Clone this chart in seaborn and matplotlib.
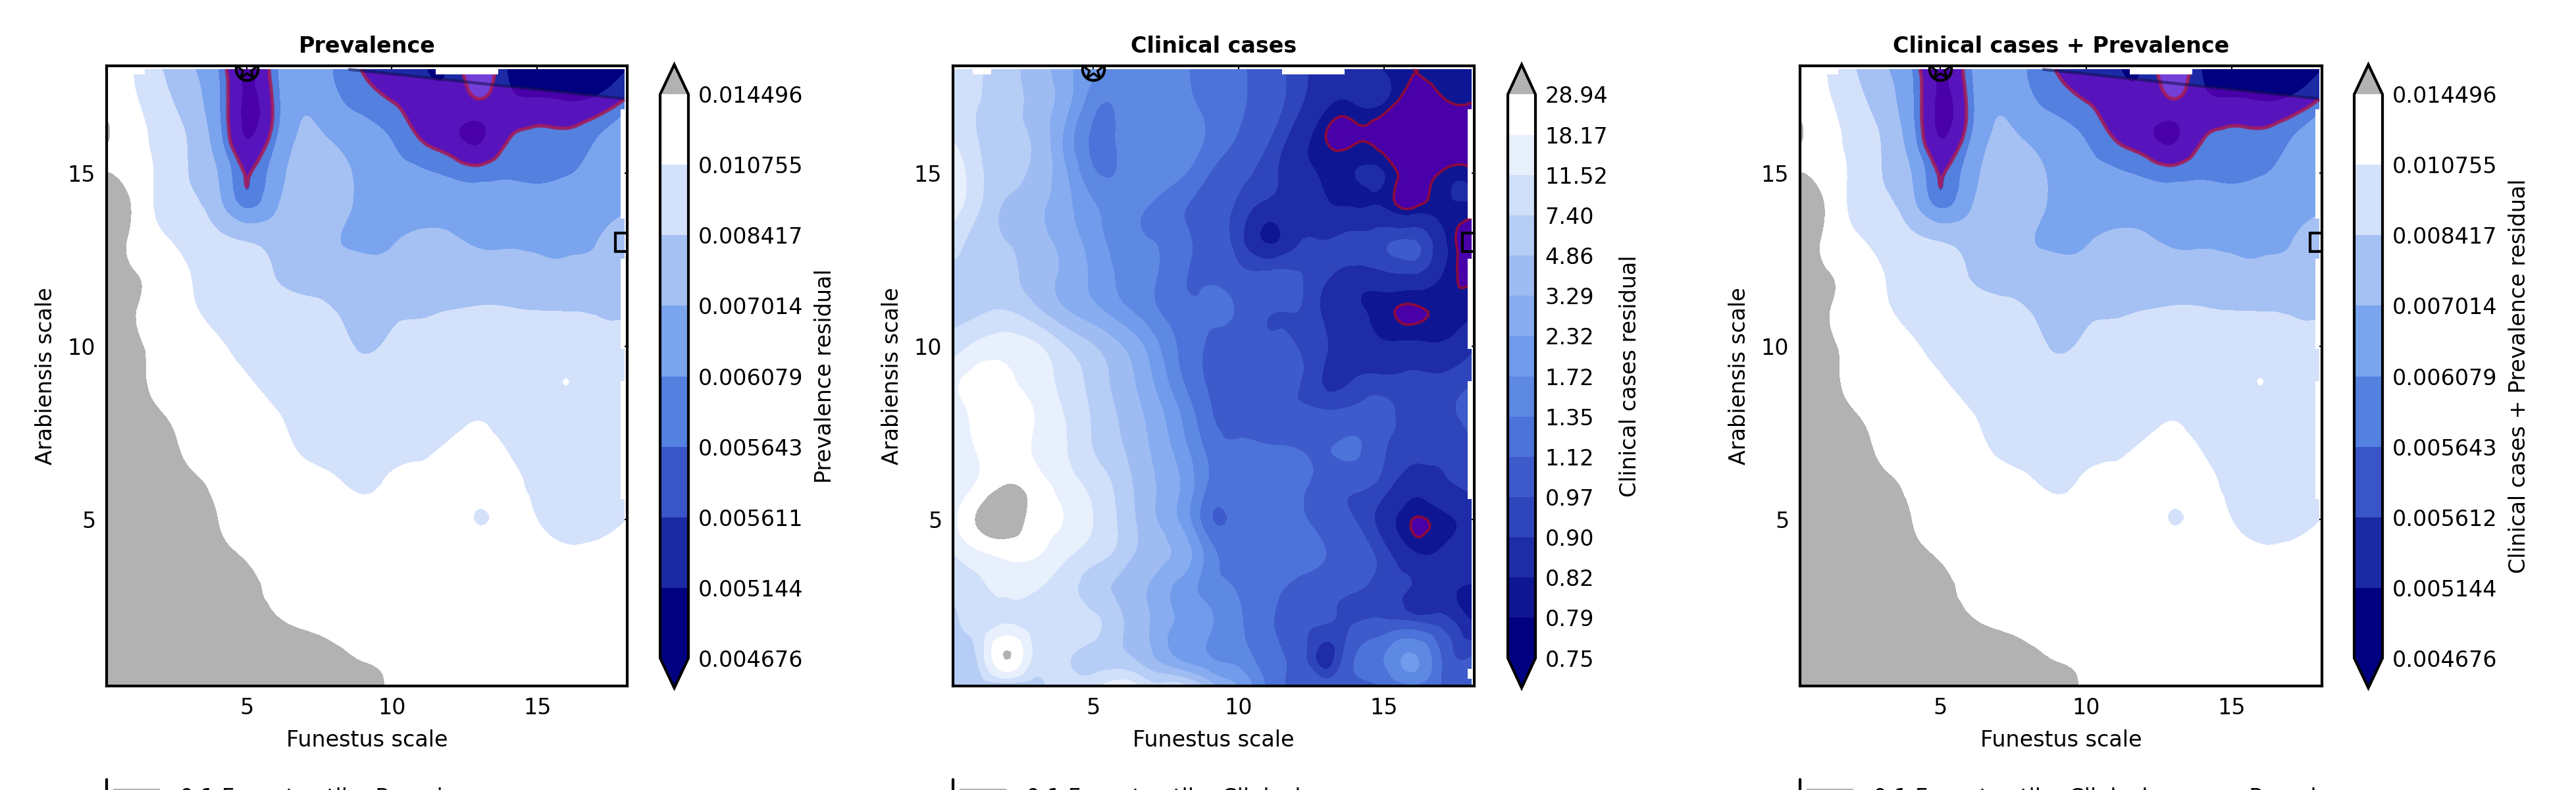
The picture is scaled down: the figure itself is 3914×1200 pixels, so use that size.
import numpy as np
import matplotlib
matplotlib.use("Agg")
import matplotlib.pyplot as plt
import matplotlib.tri as mtri
from matplotlib.colors import ListedColormap, BoundaryNorm
from matplotlib.lines import Line2D
from matplotlib.patches import Rectangle, Polygon
import seaborn as sns

funestus = [0.2] + list(range(1, 19))
arabiensis = [0.2] + list(range(1, 19))

# residuals, rows run from the lowest arabiensis scale upward
prev_y00 = [46,41,36,31,28,25,22,19.5,17,15.5,14.2,13.8,13.5,13.3,13,12.8,12.5,12.2,12]
prev_y01 = [45,40,35,30,27,24,21,18.5,16,14.3,14,13.5,13.2,13,12.8,12.5,12.3,12,11.8]
prev_y02 = [38,33,28,24,20,17.5,15.2,13.8,13,12.8,12.7,12.6,12.5,12.4,12.3,12.2,12,11.7,11.4]
prev_y03 = [33,28,24,20,17.5,15.3,14.1,13.4,13,12.7,12.5,12.3,12.2,12.1,12,11.9,11.7,11.5,11.2]
prev_y04 = [29,25,21,18,15.5,14.2,13.3,12.8,12.5,12.3,12.2,12,11.9,11.8,11.7,11.5,11,11.1,11.2]
prev_y05 = [25,22,18,16,14.5,13.5,12.9,12.4,12.2,11.9,11.8,11.7,11.6,10.68,11.2,10.76,10.2,10.2,10.7]
prev_y06 = [21,18.5,16,15,14,13,12.4,11.8,11.3,10.3,11.2,11.2,11.3,11.4,11.1,10.4,9.8,9.8,9.9]
prev_y07 = [19,17,15.5,14.1,13.2,12.4,11.6,10.5,9.9,9.5,10,10.5,11,11.3,10.7,9.9,9.5,9.4,9.5]
prev_y08 = [18,16,14.7,13.5,12.5,11.6,10.9,10.2,9.8,9.2,9.3,9.5,10,10.6,10,9.4,9.1,9,9]
prev_y09 = [17,15.2,14,12.8,11.6,10.9,10.2,9.8,9.4,9,9.2,9.1,9.1,9.3,9.2,9.1,10.8,9,9]
prev_y10 = [16.5,15,13.8,12.3,11,10.3,9.8,9.3,8.9,8.3,8.6,8.7,8.8,8.9,8.9,8.85,8.9,8.7,8.7]
prev_y11 = [16,14.8,13,11.2,10.2,9.7,9.2,8.8,8.45,8.1,8.25,8.3,8.45,8.6,8.55,8.45,8.42,8.35,8.3]
prev_y12 = [17,15,13.3,10.9,9.8,9.2,8.4,8,7.8,7.5,7.6,7.7,7.6,7.5,7.5,7.45,7.4,7.4,7.5]
prev_y13 = [19,13.9,11.5,9.9,9,8.45,8,7.6,7.1,6.85,6.95,7.35,7.2,6.95,6.95,6.9,6.9,7,7.4]
prev_y14 = [22,14.6,10.2,8.9,7.5,6.05,6.9,7.7,7.6,6.7,6.6,6.5,6.5,6.5,6.5,6.5,6.5,6.6,6.85]
prev_y15 = [14.6,12.6,10.2,8.4,7,5.6,6.5,7.5,7.5,6.7,6.3,6.15,6,5.85,6,5.95,6.05,6.2,6.4]
prev_y16 = [14.7,12.2,10,8.3,6.4,5.14,6,7.2,6.9,6.45,6.05,5.6,5.3,5.08,5.6,5.75,5.75,6.05,6.7]
prev_y17 = [13.8,11.5,9.3,7.7,6.2,5.05,5.8,6.9,6.3,5.9,5.65,5.4,5.25,5.5,5.3,5.25,5.2,5.3,5.75]
prev_y18 = [13.5,11,8.6,7.2,6.1,4.95,5.95,6.5,6.05,5.6,5.3,5.2,5.2,6.1,5.1,4.7,4.6,4.8,5.1]

clin_y00 = [5.4,6,5.5,6.5,8.5,10,16,8.5,9,4,2.3,1.3,1.1,1.05,1.05,1.13,1.3,1.1,1]
clin_y01 = [6,7.5,29.5,10,7.7,6.5,5.5,3.5,2.2,1.75,1.55,1.2,1.05,.87,1.12,1.35,1.8,1.1,.98]
clin_y02 = [6.8,8.5,11.5,9.5,8.5,8,5,3.2,2.2,1.8,1.4,1.16,1,.97,.97,1,1,.94,.83]
clin_y03 = [8,10,13,11.8,9,6,4.2,3.1,2.1,1.5,1.33,1.18,1.08,1.03,.98,.93,.89,.85,.81]
clin_y04 = [11.5,16,20,19,13,9,6,4,2.9,1.5,1.28,1.22,1.17,1.12,1.03,.93,.83,.83,.85]
clin_y05 = [16,30,40,24,18,11.5,6.5,3.6,2.2,1.15,1.2,1.18,1.15,1.05,.97,.86,.789,.805,.85]
clin_y06 = [13,19,29,23,15,10,6,3.5,2.3,1.3,1.2,1.17,1.15,1.05,1,.93,.85,.88,.92]
clin_y07 = [14,18.5,24,17,12,7.4,5,3.2,2,1.27,1.16,1.14,1.125,1.11,1.14,.98,.92,.91,.95]
clin_y08 = [14,21,25,18,11.5,7,4.5,2.9,1.72,1.15,1.05,1,1,1,1.02,1,.93,.94,1]
clin_y09 = [17,21,20,15,10,6.3,4,2.4,1.4,1.1,1.05,1,.98,.89,.905,.92,.92,.92,.96]
clin_y10 = [9,13,15,12.5,7.6,5,3.3,2,1.3,1.1,1.05,1,.97,.905,.85,.83,.835,.83,.88]
clin_y11 = [7,7,7.6,5.5,3.5,2.6,1.9,1.45,1.2,1.14,1.1,.98,.97,.88,.83,.80,.785,.795,.81]
clin_y12 = [6.5,7,5.5,4.2,3,2.2,1.6,1.4,1.15,1.1,1.02,1,.98,.91,.86,.87,.88,.815,.785]
clin_y13 = [9,6.3,4.9,3.9,2.9,2,1.5,1.36,1.2,1.03,.93,.815,.89,.905,.93,.96,.98,.84,.76]
clin_y14 = [14,8,4.5,3.6,2.6,1.8,1.45,1.33,1.15,1.03,.95,.87,.88,.83,.82,.82,.79,.805,.81]
clin_y15 = [18,8.5,5.8,4.3,2.5,1.4,1.4,1.5,1.4,1.12,1,.93,.85,.815,.82,.82,.77,.795,.80]
clin_y16 = [11,7.5,5.5,4.5,2.2,1.3,1.42,1.6,1.55,1.3,1.1,.98,.86,.79,.785,.765,.72,.73,.74]
clin_y17 = [9,7.5,6,4.2,2.7,1.45,1.45,1.6,1.45,1.28,1.15,1.03,.92,.83,.82,.815,.755,.775,.787]
clin_y18 = [9,8,5.5,4.2,2.6,1.9,1.5,1.5,1.4,1.25,1.15,1.03,.93,.86,.84,.815,.79,.805,.805]

prev_rows = [prev_y00, prev_y01, prev_y02, prev_y03, prev_y04, prev_y05, prev_y06, prev_y07, prev_y08, prev_y09,
             prev_y10, prev_y11, prev_y12, prev_y13, prev_y14, prev_y15, prev_y16, prev_y17, prev_y18]
clin_rows = [clin_y00, clin_y01, clin_y02, clin_y03, clin_y04, clin_y05, clin_y06, clin_y07, clin_y08, clin_y09,
             clin_y10, clin_y11, clin_y12, clin_y13, clin_y14, clin_y15, clin_y16, clin_y17, clin_y18]

prev_levels = [4.676, 5.144, 5.611, 5.643, 6.079, 7.014, 8.417, 10.755, 14.496]   # x 1e-3
clin_levels = [.75, .79, .82, .90, .97, 1.12, 1.35, 1.72, 2.32, 3.29, 4.86, 7.40, 11.52, 18.17, 28.94]

prev_labels = ["0.004676", "0.005144", "0.005611", "0.005643", "0.006079", "0.007014", "0.008417", "0.010755", "0.014496"]
both_labels = ["0.004676", "0.005144", "0.005612", "0.005643", "0.006079", "0.007014", "0.008417", "0.010755", "0.014496"]
clin_labels = ["0.75", "0.79", "0.82", "0.90", "0.97", "1.12", "1.35", "1.72", "2.32", "3.29", "4.86", "7.40", "11.52", "18.17", "28.94"]

titles = ["Prevalence", "Clinical cases", "Clinical cases + Prevalence"]
bar_labels = ["Prevalence residual", "Clinical cases residual", "Clinical cases + Prevalence residual"]
legend_texts = ["0.1 Funestus tile: Prevalence", "0.1 Funestus tile: Clinical", "0.1 Funestus tile: Clinical cases + Prevalence"]

# where each panel's contour surface was not drawn in the reference
gap_x = [(17.87, 18.0)] * 5 + [(11.5, 13.65), (0.85, 1.5)]
gap_y = [(13.69, 16.84), (9.93, 12.53), (7.88, 9.0), (5.6, 7.88), (0.41, 0.7), (17.85, 18.0), (17.85, 18.0)]

# straight closing edge of the prevalence overlay and the pocket above it
edge_x = [8.5, 18.0]
edge_y = [18.0, 17.15]
pocket_x = [12.2, 13.7]
best_fit = (5, 18)
true_scale = (18, 13)

prev_threshold = 5.62
clin_threshold = 0.79

W, H = 3914, 1200
axes_px = [(162, 953), (1448, 2240), (2735, 3528)]
cbar_px = [(1003, 1046), (2291, 2333), (3577, 3620)]
AX_TOP, AX_BOT = 100, 1042
CB_TOP, CB_BOT = 98, 1045

anchors = ["#000080", "#1c2aa5", "#3a55c8", "#5480e0", "#7aa4ee", "#a5c0f3", "#d3e1fb", "#ffffff"]

sns.set_theme(style="white", rc={
    "font.family": "DejaVu Sans", "font.size": 8, "axes.titlesize": 8, "axes.titleweight": "bold",
    "axes.labelsize": 8, "xtick.labelsize": 8, "ytick.labelsize": 8, "axes.linewidth": 1.0,
    "axes.edgecolor": "black", "text.color": "black", "axes.labelcolor": "black",
    "xtick.color": "black", "ytick.color": "black", "xtick.direction": "in", "ytick.direction": "in",
    "xtick.top": True, "ytick.right": True, "xtick.major.size": 4, "ytick.major.size": 4,
    "xtick.major.width": 0.5, "ytick.major.width": 0.5, "xtick.bottom": True, "ytick.left": True,
    "xtick.major.pad": 4, "ytick.major.pad": 4, "axes.labelpad": 4,
})


def refined(rows):
    xx, yy = np.meshgrid(funestus, arabiensis)
    tri = mtri.Triangulation(xx.ravel(), yy.ravel())
    refiner = mtri.UniformTriRefiner(tri)
    fine_tri, fine_log = refiner.refine_field(np.log(np.array(rows, dtype=float)).ravel(), subdiv=3)
    return fine_tri, np.exp(fine_log)


def rect(px_x, top, bot):
    return [px_x[0] / W, 1 - bot / H, (px_x[1] - px_x[0]) / W, (bot - top) / H]


fig = plt.figure(figsize=(W / 300, H / 300), dpi=300)
prev_tri, prev_z = refined(prev_rows)
clin_tri, clin_z = refined(clin_rows)

panels = [
    (prev_tri, prev_z, prev_levels, prev_labels, prev_threshold, True),
    (clin_tri, clin_z, clin_levels, clin_labels, clin_threshold, False),
    (prev_tri, prev_z, prev_levels, both_labels, prev_threshold, True),
]

for i, (tri, z, levels, labels, thr, closed_edge) in enumerate(panels):
    ax = fig.add_axes(rect(axes_px[i], AX_TOP, AX_BOT))
    colors = sns.blend_palette(anchors, len(levels) - 1)
    cmap = ListedColormap(colors)
    cmap.set_under("#000080")
    cmap.set_over("#b2b2b2")
    norm = BoundaryNorm(levels, cmap.N)
    cs = ax.tricontourf(tri, z, levels=levels, cmap=cmap, norm=norm, extend="both")

    if closed_edge:
        below = Polygon([(0, 18.2), (edge_x[0], 18.2), (edge_x[0], edge_y[0]), (edge_x[1], edge_y[1]),
                         (18.2, edge_y[1]), (18.2, 0), (0, 0)], transform=ax.transData)
        fill = ax.tricontourf(tri, z, levels=[0, thr], colors=["#9400d3"], alpha=0.5, zorder=3)
        fill.set_clip_path(below)
        above = Polygon([(pocket_x[0], 17.0), (pocket_x[1], 17.0), (pocket_x[1], 18.2), (pocket_x[0], 18.2)],
                        transform=ax.transData)
        pocket = ax.tricontourf(tri, z, levels=[thr, 50], colors=["#9400d3"], alpha=0.5, zorder=3)
        pocket.set_clip_path(above)
        ax.tricontour(tri, z, levels=[thr], colors=["#a81c50"], linewidths=1.3, alpha=0.8, zorder=4)
        ax.plot(edge_x, edge_y, color="#101050", lw=1.1, alpha=0.55, zorder=4, solid_capstyle="butt")
    else:
        ax.tricontourf(tri, z, levels=[0, thr], colors=["#9400d3"], alpha=0.5, zorder=3)
        ax.tricontour(tri, z, levels=[thr], colors=["#8b0a3c"], linewidths=0.9, zorder=4)

    for (x0, x1), (y0, y1) in zip(gap_x, gap_y):
        ax.add_patch(Rectangle((x0, y0), x1 - x0, y1 - y0, fc="white", ec="none", zorder=4.5))

    ax.plot(*best_fit, marker="o", ms=8, mfc="none", mec="black", mew=1.0, zorder=6)
    ax.plot(*best_fit, marker="*", ms=8, mfc="none", mec="black", mew=0.8, zorder=6)
    ax.plot(*true_scale, marker="s", ms=6.5, mfc="none", mec="black", mew=1.0, zorder=6)

    ax.set_xlim(0.18, 18.1)
    ax.set_ylim(0.2, 18.1)
    ax.set_xticks([5, 10, 15])
    ax.set_yticks([5, 10, 15])
    ax.set_xlabel("Funestus scale")
    ax.set_ylabel("Arabiensis scale")
    ax.set_title(titles[i], pad=4.8)

    cax = fig.add_axes(rect(cbar_px[i], CB_TOP, CB_BOT))
    cb = fig.colorbar(cs, cax=cax, ticks=levels, extend="both", extendfrac=0.053, spacing="uniform", drawedges=False)
    cb.set_ticklabels(labels)
    cb.minorticks_off()
    cb.outline.set_linewidth(1.0)
    cax.tick_params(axis="y", which="major", direction="in", right=True, left=False, length=4, width=0.5, pad=3.5)
    cb.set_label(bar_labels[i], labelpad=4)

    # top of the legend that runs off the lower figure edge
    x0 = axes_px[i][0]
    fig.add_artist(Line2D([x0 / W, x0 / W], [1 - 1184 / H, 0], color="black", lw=1.0))
    fig.add_artist(Rectangle(((x0 + 10) / W, 0), 71 / W, 2 / H, fc="#b2b2b2", ec="none", transform=fig.transFigure))
    fig.text((x0 + 111) / W, 1 - 1196 / H, legend_texts[i], fontsize=8, va="top", ha="left")

fig.savefig("out.png", dpi=300)
